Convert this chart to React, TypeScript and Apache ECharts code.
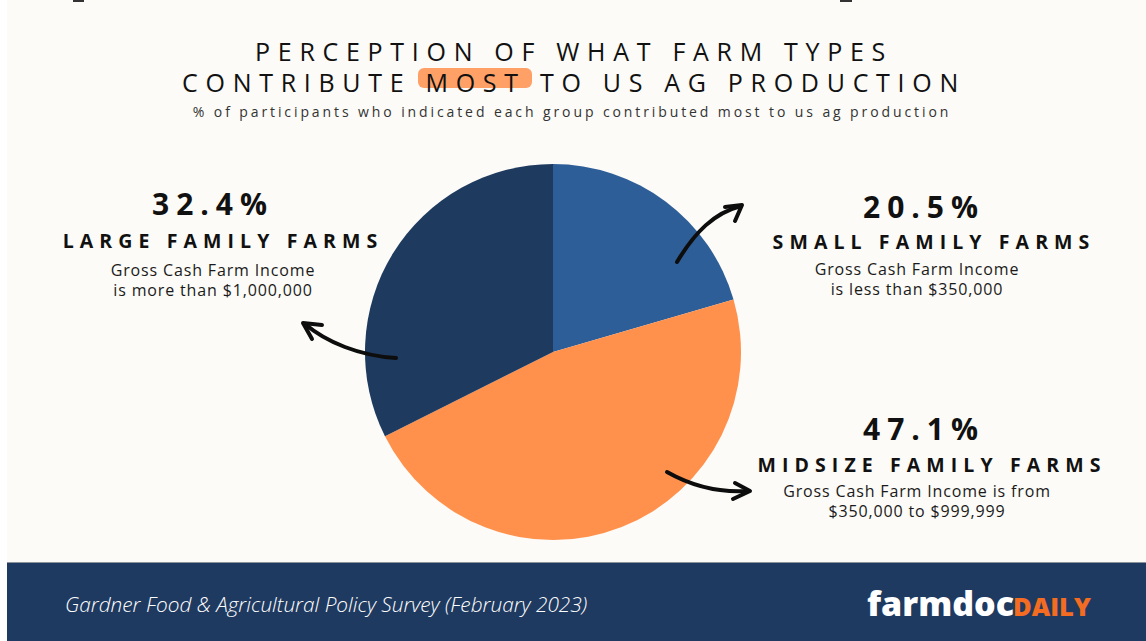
import React, { useEffect, useRef } from "react";
import * as echarts from "echarts";

// ---- data ----
const categories = ["Small Family Farms", "Midsize Family Farms", "Large Family Farms"];
const shares = [20.5, 47.1, 32.4];
const percentLabels = ["20.5%", "47.1%", "32.4%"];
const categoryLabels = ["SMALL FAMILY FARMS", "MIDSIZE FAMILY FARMS", "LARGE FAMILY FARMS"];
const incomeLines = [
  ["Gross Cash Farm Income", "is less than $350,000"],
  ["Gross Cash Farm Income is from", "$350,000 to $999,999"],
  ["Gross Cash Farm Income", "is more than $1,000,000"],
];
const titleLines = ["PERCEPTION OF WHAT FARM TYPES", "CONTRIBUTE MOST TO US AG PRODUCTION"];
const subtitle = "% of participants who indicated each group contributed most to us ag production";
const sourceNote = "Gardner Food & Agricultural Policy Survey (February 2023)";
const logoParts = ["farmdoc", "DAILY"];

// ---- styles / layout ----
const sliceColors = ["#2e5e98", "#ff914d", "#1e3a5f"];
// [percentX, percentY, categoryX, categoryY, descX, descY]
const calloutLayout = [
  [924, 206, 934, 241, 917, 279],
  [924, 428, 932, 464, 917, 501],
  [213, 203, 223, 240, 213, 280],
];
const FONT = "'Open Sans'";

const css = `
text[style*="lsT"]{letter-spacing:7.7px}
text[style*="lsS"]{letter-spacing:2.9px}
text[style*="lsP"]{letter-spacing:7px}
text[style*="lsC"]{letter-spacing:6.1px}
text[style*="lsD"]{letter-spacing:0.85px}
`;

function txt(
  text: string,
  x: number,
  y: number,
  size: number,
  family: string,
  weight: string | number,
  color: string,
  extra: any = {}
) {
  return {
    type: "text",
    x,
    y,
    z: 20,
    silent: true,
    style: {
      text,
      fontSize: size,
      fontFamily: family,
      fontWeight: weight,
      fill: color,
      textAlign: "center",
      textVerticalAlign: "middle",
      ...extra,
    },
  };
}

function arrow(curve: number[][], head: number[][]) {
  const st = { stroke: "#0d0d0d", lineWidth: 4, lineCap: "round", lineJoin: "round", fill: null };
  return [
    {
      type: "bezierCurve",
      z: 30,
      silent: true,
      shape: {
        x1: curve[0][0], y1: curve[0][1],
        cpx1: curve[1][0], cpy1: curve[1][1],
        cpx2: curve[2][0], cpy2: curve[2][1],
        x2: curve[3][0], y2: curve[3][1],
      },
      style: st,
    },
    { type: "polyline", z: 30, silent: true, shape: { points: head }, style: st },
  ];
}

function buildOption() {
  const graphics: any[] = [];
  // background
  graphics.push({ type: "rect", z: -10, silent: true, shape: { x: 7, y: 0, width: 1139, height: 641 }, style: { fill: "#fcfbf7" } });
  graphics.push({ type: "rect", z: -9, silent: true, shape: { x: 73, y: 0, width: 11, height: 2 }, style: { fill: "#333" } });
  graphics.push({ type: "rect", z: -9, silent: true, shape: { x: 840, y: 0, width: 12, height: 2 }, style: { fill: "#333" } });
  // footer
  graphics.push({ type: "rect", z: -5, silent: true, shape: { x: 7, y: 563, width: 1139, height: 78 }, style: { fill: "#1f3a60" } });
  graphics.push({ type: "rect", z: -5, silent: true, shape: { x: 7, y: 562, width: 1139, height: 1 }, style: { fill: "#8d939b" } });
  // highlight behind MOST
  graphics.push({ type: "rect", z: 10, silent: true, shape: { x: 418, y: 68, width: 114, height: 20, r: 6 }, style: { fill: "#ff914d", opacity: 0.85 } });
  // title
  graphics.push(txt(titleLines.join("\n"), 574, 66.5, 25, FONT + ", lsT", 400, "#111", { lineHeight: 31 }));
  graphics.push(txt(subtitle, 572, 111, 14, FONT + ", lsS", 400, "#333"));
  // callouts
  for (let i = 0; i < categories.length; i++) {
    const [px, py, cx, cy, dx, dy] = calloutLayout[i];
    graphics.push(txt(percentLabels[i], px, py, 30, FONT + ", lsP", 700, "#111"));
    graphics.push(txt(categoryLabels[i], cx, cy, 19.5, FONT + ", lsC", 700, "#111"));
    graphics.push(txt(incomeLines[i].join("\n"), dx, dy, 16, FONT + ", lsD", 400, "#1a1a1a", { lineHeight: 20 }));
  }
  // arrows
  graphics.push(...arrow([[677, 262], [695, 232], [714, 213], [741, 206]], [[725, 207], [742, 205], [735, 221]]));
  graphics.push(...arrow([[396, 358], [360, 356], [326, 342], [305, 324]], [[322, 325], [303, 323], [312, 339]]));
  graphics.push(...arrow([[667, 472], [690, 485], [716, 493], [748, 491]], [[735, 483], [750, 491], [733, 499]]));
  // footer texts
  graphics.push(txt(sourceNote, 65, 604, 20.8, FONT, 300, "#ffffff", { textAlign: "left", fontStyle: "italic" }));
  graphics.push(txt(logoParts[0], 867, 603, 34, FONT, 800, "#ffffff", { textAlign: "left" }));
  graphics.push(txt(logoParts[1], 1013, 606, 25.5, FONT, 800, "#f36c21", { textAlign: "left" }));

  return {
    animation: false,
    backgroundColor: "#ffffff",
    graphic: { elements: graphics },
    series: [
      {
        type: "pie",
        center: [553, 352],
        radius: 188,
        startAngle: 90,
        clockwise: true,
        silent: true,
        label: { show: false },
        labelLine: { show: false },
        itemStyle: { borderWidth: 0 },
        data: categories.map((name, i) => ({ name, value: shares[i], itemStyle: { color: sliceColors[i] } })),
      },
    ],
  };
}

export default function App() {
  const ref = useRef<HTMLDivElement>(null);
  useEffect(() => {
    const chart = echarts.init(ref.current!, undefined, { renderer: "svg", width: 1146, height: 641 });
    chart.setOption(buildOption() as any);
    return () => chart.dispose();
  }, []);
  return (
    <>
      <style>{css}</style>
      <div ref={ref} style={{ position: "fixed", left: 0, top: 0, width: 1146, height: 641 }} />
    </>
  );
}
